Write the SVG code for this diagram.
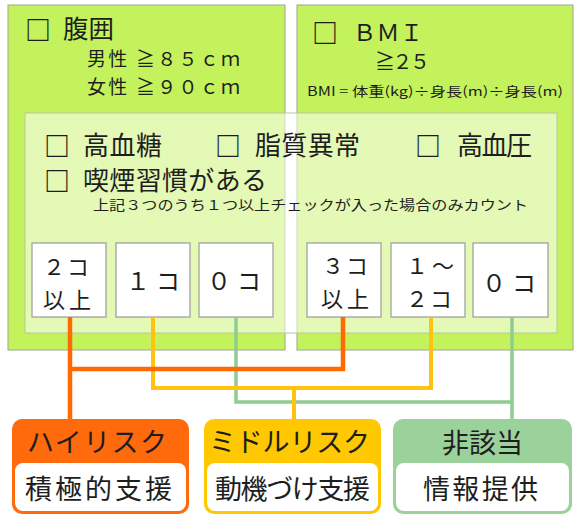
<svg xmlns="http://www.w3.org/2000/svg" width="580" height="516" viewBox="0 0 580 516">
<style>
text{font-family:"Noto Sans CJK JP","Noto Sans",sans-serif;fill:#1e1e1e}
.outer{fill:#c4f25c;stroke:#9aa88a;stroke-width:1}
.inner{fill:#ffffff;fill-opacity:0.55;stroke:#b8c6a0;stroke-width:1}
.cnt{fill:#ffffff;stroke:#9a9a9a;stroke-width:1.2}
.c{font-size:22px}
.big{font-size:24px}
.chk{font-size:26px;font-weight:bold}
.line{fill:none;stroke-linejoin:miter}
.hd{font-size:27px}
.bd{font-size:27px}
</style>
<rect width="580" height="516" fill="#ffffff"/>
<g id="waist">
<rect class="outer" x="8" y="5" width="277" height="345"/>
<text class="chk" x="25" y="40">□</text>
<text x="63" y="38" font-size="25" textLength="51" lengthAdjust="spacingAndGlyphs">腹囲</text>
<text x="87" y="66" font-size="19" textLength="153">男性 ≧８５ｃｍ</text>
<text x="87" y="94" font-size="19" textLength="153">女性 ≧９０ｃｍ</text>
</g>
<g id="bmi">
<rect class="outer" x="297" y="5" width="276" height="345"/>
<text class="chk" x="312" y="43">□</text>
<text x="353" y="41" font-size="23" textLength="70">ＢＭＩ</text>
<text x="375" y="69" font-size="20" textLength="55">≧２５</text>
<text x="307" y="96" font-size="13" textLength="256" lengthAdjust="spacingAndGlyphs">BMI = 体重(kg)÷身長(m)÷身長(m)</text>
</g>
<g id="risks">
<rect class="inner" x="25" y="113" width="532" height="220"/>
<text class="chk" x="44" y="156">□</text>
<text x="83" y="155" font-size="26" textLength="79">高血糖</text>
<text class="chk" x="215" y="156">□</text>
<text x="255" y="155" font-size="26" textLength="105">脂質異常</text>
<text class="chk" x="415" y="156">□</text>
<text x="457" y="155" font-size="26" textLength="75">高血圧</text>
<text class="chk" x="44" y="191">□</text>
<text x="83" y="190" font-size="26" textLength="184">喫煙習慣がある</text>
<text x="93" y="210" font-size="13.5" textLength="435" lengthAdjust="spacingAndGlyphs">上記３つのうち１つ以上チェックが入った場合のみカウント</text>
</g>
<g id="w2">
<rect class="cnt" x="32" y="243" width="74" height="74"/>
<text class="c" x="43" y="275" textLength="46">２コ</text>
<text class="c" x="43" y="308" textLength="48">以上</text>
</g>
<g id="w1">
<rect class="cnt" x="116" y="243" width="74" height="74"/>
<text class="big" x="126" y="290" textLength="54">１コ</text>
</g>
<g id="w0">
<rect class="cnt" x="199" y="243" width="74" height="74"/>
<text class="big" x="207" y="290" textLength="54">０コ</text>
</g>
<g id="b3">
<rect class="cnt" x="307" y="243" width="74" height="74"/>
<text class="c" x="322" y="274" textLength="46">３コ</text>
<text class="c" x="321" y="307" textLength="48">以上</text>
</g>
<g id="b12">
<rect class="cnt" x="391" y="243" width="74" height="74"/>
<text class="c" x="406" y="274" textLength="48">１～</text>
<text class="c" x="406" y="307" textLength="46">２コ</text>
</g>
<g id="b0">
<rect class="cnt" x="473" y="243" width="75" height="74"/>
<text class="big" x="482" y="292" textLength="54">０コ</text>
</g>
<g id="connectors">
<path class="line" d="M236 317 V402 H512 M512 317 V420" stroke="#90cc92" stroke-width="3.5"/>
<path class="line" d="M153 317 V388 H431 V317 M294 388 V420" stroke="#ffc20e" stroke-width="4"/>
<path class="line" d="M70 317 V420 M70 369 H343 V317" stroke="#ff6a00" stroke-width="4.5"/>
</g>
<g id="high">
<rect x="12" y="419" width="177" height="95" rx="10" fill="#ff6a0d"/>
<rect x="15" y="463" width="171" height="48" rx="8" fill="#ffffff"/>
<text class="hd" x="27" y="452" textLength="140">ハイリスク</text>
<text class="bd" x="25" y="499" textLength="147">積極的支援</text>
</g>
<g id="middle">
<rect x="204" y="419" width="177" height="95" rx="10" fill="#ffc800"/>
<rect x="207" y="463" width="171" height="48" rx="8" fill="#ffffff"/>
<text class="hd" x="209" y="452" textLength="161">ミドルリスク</text>
<text class="bd" x="215" y="499" textLength="155">動機づけ支援</text>
</g>
<g id="none">
<rect x="393" y="419" width="179" height="95" rx="10" fill="#9bd19b"/>
<rect x="396" y="463" width="173" height="48" rx="8" fill="#ffffff"/>
<text class="hd" x="442" y="453" textLength="81">非該当</text>
<text class="bd" x="423" y="499" textLength="115">情報提供</text>
</g>
</svg>
